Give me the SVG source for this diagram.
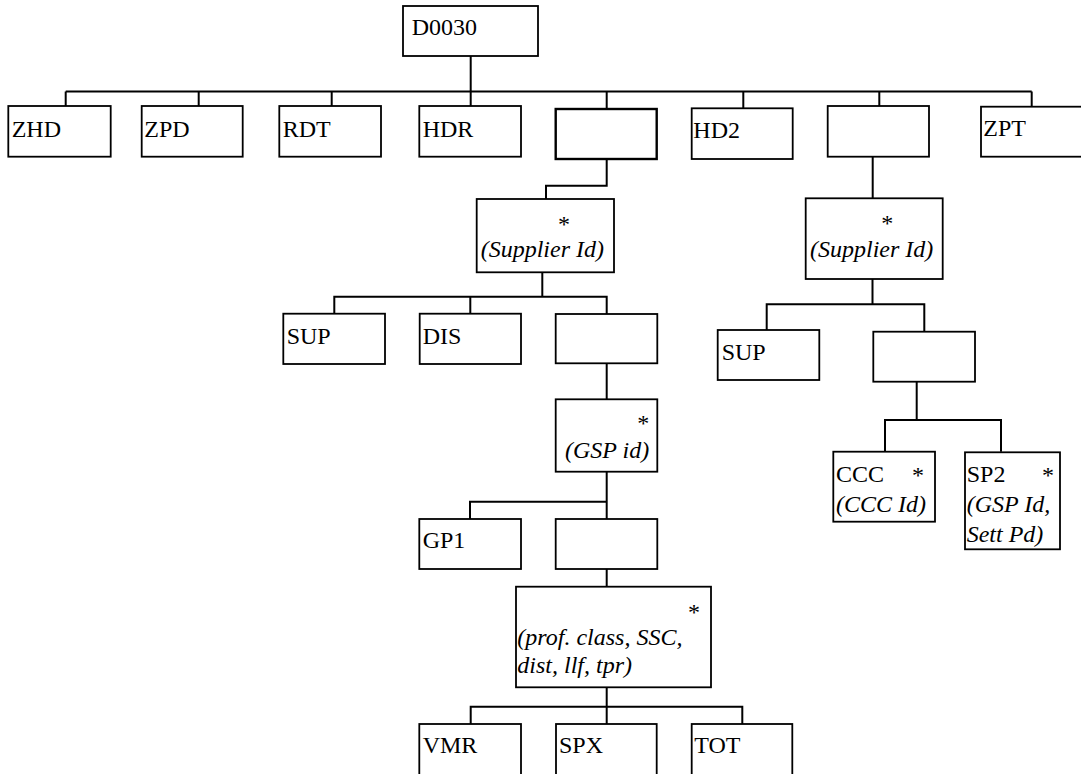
<svg xmlns="http://www.w3.org/2000/svg" width="1081" height="774" viewBox="0 0 1081 774">
<style>
.box{fill:#fff;stroke:#000;stroke-width:1.8}
.thick{stroke-width:2.4}
.conn{fill:none;stroke:#000;stroke-width:2}
text{font-family:"Liberation Serif","Times New Roman",serif;font-size:24px;fill:#000}
.it{font-style:italic}
.ast{text-anchor:middle}
</style>
<rect width="1081" height="774" fill="#fff"/>
<g id="connectors">
<polyline class="conn" points="470.7,56 470.7,106"/>
<polyline class="conn" points="65.7,91.5 1031.7,91.5"/>
<polyline class="conn" points="65.7,91.5 65.7,106"/>
<polyline class="conn" points="198.7,91.5 198.7,106"/>
<polyline class="conn" points="331.7,91.5 331.7,106"/>
<polyline class="conn" points="606.7,91.5 606.7,109"/>
<polyline class="conn" points="743.3,91.5 743.3,108.3"/>
<polyline class="conn" points="879.3,91.5 879.3,106"/>
<polyline class="conn" points="1031.7,91.5 1031.7,106.7"/>
<polyline class="conn" points="606.7,159 606.7,185.7 546,185.7 546,199"/>
<polyline class="conn" points="542.3,272.3 542.3,296.7"/>
<polyline class="conn" points="334.3,313.7 334.3,296.7 606.7,296.7 606.7,314"/>
<polyline class="conn" points="470.3,296.7 470.3,313.7"/>
<polyline class="conn" points="606.7,363.3 606.7,399.3"/>
<polyline class="conn" points="606.7,471.7 606.7,519"/>
<polyline class="conn" points="470,519 470,501.7 606.7,501.7"/>
<polyline class="conn" points="606.7,569 606.7,586.7"/>
<polyline class="conn" points="606.7,687.3 606.7,724"/>
<polyline class="conn" points="470.7,724 470.7,706.7 742.3,706.7 742.3,724"/>
<polyline class="conn" points="872.7,156.7 872.7,198.3"/>
<polyline class="conn" points="872.5,279 872.5,304.3"/>
<polyline class="conn" points="766.7,330 766.7,304.3 924.3,304.3 924.3,331.7"/>
<polyline class="conn" points="916.7,381.7 916.7,420"/>
<polyline class="conn" points="885,451.7 885,420 1001,420 1001,451.7"/>
</g>
<g id="D0030"><rect class="box" x="403" y="6" width="135" height="50"/><text x="411.7" y="35.3">D0030</text></g>
<g id="ZHD"><rect class="box" x="8.3" y="106" width="102.4" height="50.7"/><text x="11.7" y="136.7">ZHD</text></g>
<g id="ZPD"><rect class="box" x="141.7" y="106" width="101" height="50.7"/><text x="144.3" y="136.7">ZPD</text></g>
<g id="RDT"><rect class="box" x="279.3" y="106" width="101.7" height="50.7"/><text x="282.7" y="136.7">RDT</text></g>
<g id="HDR"><rect class="box" x="419.3" y="106" width="101.7" height="50.7"/><text x="422.7" y="136.7">HDR</text></g>
<g id="group1"><rect class="box thick" x="555.7" y="109" width="101" height="50"/></g>
<g id="HD2"><rect class="box" x="691.7" y="108.3" width="101" height="50.7"/><text x="693.3" y="138.3">HD2</text></g>
<g id="group2"><rect class="box" x="827.7" y="106" width="101.3" height="50.7"/></g>
<g id="ZPT"><rect class="box" x="981" y="106.7" width="110" height="50"/><text x="983.3" y="136">ZPT</text></g>
<g id="supplier1"><rect class="box" x="476.7" y="199" width="137.3" height="73.3"/><text class="ast" x="564" y="232">*</text><text class="it" x="480.7" y="257.3">(Supplier Id)</text></g>
<g id="SUP1"><rect class="box" x="283.3" y="313.7" width="101.7" height="50.3"/><text x="286.7" y="344.3">SUP</text></g>
<g id="DIS"><rect class="box" x="419.7" y="313.7" width="101.3" height="50.3"/><text x="422.7" y="344.3">DIS</text></g>
<g id="group3"><rect class="box" x="555.7" y="314" width="101.6" height="49.3"/></g>
<g id="gsp"><rect class="box" x="555.7" y="399.3" width="101.6" height="72.4"/><text class="ast" x="643.3" y="431">*</text><text class="it" x="565" y="458.3">(GSP id)</text></g>
<g id="GP1"><rect class="box" x="419.3" y="519" width="101.7" height="50"/><text x="422.7" y="548.3">GP1</text></g>
<g id="group4"><rect class="box" x="555.7" y="519" width="101.6" height="50"/></g>
<g id="profclass"><rect class="box" x="516" y="586.7" width="195" height="100.6"/><text class="ast" x="694" y="620">*</text><text class="it" x="517.3" y="645">(prof. class, SSC,</text><text class="it" x="517.3" y="673.3">dist, llf, tpr)</text></g>
<g id="VMR"><rect class="box" x="419.3" y="724" width="101.7" height="52"/><text x="422.7" y="753.3">VMR</text></g>
<g id="SPX"><rect class="box" x="556" y="724" width="100.7" height="52"/><text x="559" y="753.3">SPX</text></g>
<g id="TOT"><rect class="box" x="691.7" y="724" width="100.6" height="52"/><text x="694.3" y="753.3">TOT</text></g>
<g id="supplier2"><rect class="box" x="805.7" y="198.3" width="137" height="80.7"/><text class="ast" x="887.3" y="230.5">*</text><text class="it" x="810" y="257.3">(Supplier Id)</text></g>
<g id="SUP2"><rect class="box" x="717.7" y="330" width="101.6" height="50"/><text x="721.7" y="360">SUP</text></g>
<g id="group5"><rect class="box" x="873.3" y="331.7" width="101.7" height="50"/></g>
<g id="CCC"><rect class="box" x="833.3" y="451.7" width="101.7" height="70"/><text x="836" y="481.7">CCC</text><text class="ast" x="918" y="483">*</text><text class="it" x="836" y="511.7">(CCC Id)</text></g>
<g id="SP2"><rect class="box" x="965" y="452.3" width="95" height="97"/><text x="966.7" y="481.7">SP2</text><text class="ast" x="1048" y="483">*</text><text class="it" x="966.7" y="511.7">(GSP Id,</text><text class="it" x="966.7" y="541.7">Sett Pd)</text></g>
</svg>
